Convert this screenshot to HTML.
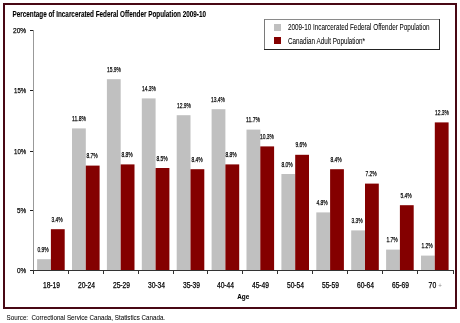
<!DOCTYPE html>
<html><head><meta charset="utf-8"><style>
html,body{margin:0;padding:0;background:#fff;width:460px;height:323px;overflow:hidden}
svg{display:block;will-change:transform}
text{font-family:"Liberation Sans", sans-serif}
</style></head><body>
<svg width="460" height="323" viewBox="0 0 460 323" shape-rendering="crispEdges">
<rect x="4" y="4" width="452" height="304" fill="none" stroke="#480814" stroke-width="2"/>
<rect x="37.10" y="259.20" width="13.8" height="10.80" fill="#c0c0c0" shape-rendering="geometricPrecision"/>
<rect x="50.90" y="229.20" width="13.8" height="40.80" fill="#840000" shape-rendering="geometricPrecision"/>
<rect x="72.00" y="128.40" width="13.8" height="141.60" fill="#c0c0c0" shape-rendering="geometricPrecision"/>
<rect x="85.80" y="165.60" width="13.8" height="104.40" fill="#840000" shape-rendering="geometricPrecision"/>
<rect x="106.90" y="79.20" width="13.8" height="190.80" fill="#c0c0c0" shape-rendering="geometricPrecision"/>
<rect x="120.70" y="164.40" width="13.8" height="105.60" fill="#840000" shape-rendering="geometricPrecision"/>
<rect x="141.80" y="98.40" width="13.8" height="171.60" fill="#c0c0c0" shape-rendering="geometricPrecision"/>
<rect x="155.60" y="168.00" width="13.8" height="102.00" fill="#840000" shape-rendering="geometricPrecision"/>
<rect x="176.70" y="115.20" width="13.8" height="154.80" fill="#c0c0c0" shape-rendering="geometricPrecision"/>
<rect x="190.50" y="169.20" width="13.8" height="100.80" fill="#840000" shape-rendering="geometricPrecision"/>
<rect x="211.60" y="109.20" width="13.8" height="160.80" fill="#c0c0c0" shape-rendering="geometricPrecision"/>
<rect x="225.40" y="164.40" width="13.8" height="105.60" fill="#840000" shape-rendering="geometricPrecision"/>
<rect x="246.50" y="129.60" width="13.8" height="140.40" fill="#c0c0c0" shape-rendering="geometricPrecision"/>
<rect x="260.30" y="146.40" width="13.8" height="123.60" fill="#840000" shape-rendering="geometricPrecision"/>
<rect x="281.40" y="174.00" width="13.8" height="96.00" fill="#c0c0c0" shape-rendering="geometricPrecision"/>
<rect x="295.20" y="154.80" width="13.8" height="115.20" fill="#840000" shape-rendering="geometricPrecision"/>
<rect x="316.30" y="212.40" width="13.8" height="57.60" fill="#c0c0c0" shape-rendering="geometricPrecision"/>
<rect x="330.10" y="169.20" width="13.8" height="100.80" fill="#840000" shape-rendering="geometricPrecision"/>
<rect x="351.20" y="230.40" width="13.8" height="39.60" fill="#c0c0c0" shape-rendering="geometricPrecision"/>
<rect x="365.00" y="183.60" width="13.8" height="86.40" fill="#840000" shape-rendering="geometricPrecision"/>
<rect x="386.10" y="249.60" width="13.8" height="20.40" fill="#c0c0c0" shape-rendering="geometricPrecision"/>
<rect x="399.90" y="205.20" width="13.8" height="64.80" fill="#840000" shape-rendering="geometricPrecision"/>
<rect x="421.00" y="255.60" width="13.8" height="14.40" fill="#c0c0c0" shape-rendering="geometricPrecision"/>
<rect x="434.80" y="122.40" width="13.8" height="147.60" fill="#840000" shape-rendering="geometricPrecision"/>
<rect x="33" y="30" width="1" height="241" fill="#999"/>
<rect x="30" y="270" width="424" height="1" fill="#333"/>
<rect x="30" y="30" width="3" height="1" fill="#222"/>
<rect x="30" y="90" width="3" height="1" fill="#222"/>
<rect x="30" y="151" width="3" height="1" fill="#222"/>
<rect x="30" y="210" width="3" height="1" fill="#222"/>
<rect x="30" y="270" width="3" height="1" fill="#222"/>
<rect x="33" y="271" width="1" height="3" fill="#333"/>
<rect x="68" y="271" width="1" height="3" fill="#333"/>
<rect x="103" y="271" width="1" height="3" fill="#333"/>
<rect x="138" y="271" width="1" height="3" fill="#333"/>
<rect x="173" y="271" width="1" height="3" fill="#333"/>
<rect x="207" y="271" width="1" height="3" fill="#333"/>
<rect x="242" y="271" width="1" height="3" fill="#333"/>
<rect x="277" y="271" width="1" height="3" fill="#333"/>
<rect x="312" y="271" width="1" height="3" fill="#333"/>
<rect x="347" y="271" width="1" height="3" fill="#333"/>
<rect x="382" y="271" width="1" height="3" fill="#333"/>
<rect x="417" y="271" width="1" height="3" fill="#333"/>
<rect x="453" y="271" width="1" height="3" fill="#333"/>
<text x="12.5" y="17.2" font-size="8.3" text-anchor="start" textLength="193.5" lengthAdjust="spacingAndGlyphs" font-weight="bold" stroke="#000" stroke-width="0.12" fill="#000">Percentage of Incarcerated Federal Offender Population 2009-10</text>
<text x="13.0" y="32.9" font-size="8" text-anchor="start" textLength="13.2" lengthAdjust="spacingAndGlyphs" stroke="#000" stroke-width="0.25" fill="#000">20%</text>
<text x="14.0" y="92.9" font-size="8" text-anchor="start" textLength="12.2" lengthAdjust="spacingAndGlyphs" stroke="#000" stroke-width="0.25" fill="#000">15%</text>
<text x="14.0" y="153.9" font-size="8" text-anchor="start" textLength="12.2" lengthAdjust="spacingAndGlyphs" stroke="#000" stroke-width="0.25" fill="#000">10%</text>
<text x="17.0" y="212.9" font-size="8" text-anchor="start" textLength="9.2" lengthAdjust="spacingAndGlyphs" stroke="#000" stroke-width="0.25" fill="#000">5%</text>
<text x="17.0" y="272.9" font-size="8" text-anchor="start" textLength="9.2" lengthAdjust="spacingAndGlyphs" stroke="#000" stroke-width="0.25" fill="#000">0%</text>
<text x="37.45" y="251.8" font-size="8" text-anchor="start" textLength="11.3" lengthAdjust="spacingAndGlyphs" stroke="#000" stroke-width="0.25" fill="#000">0.9%</text>
<text x="51.45" y="221.8" font-size="8" text-anchor="start" textLength="11.3" lengthAdjust="spacingAndGlyphs" stroke="#000" stroke-width="0.25" fill="#000">3.4%</text>
<text x="72.0" y="121.0" font-size="8" text-anchor="start" textLength="14" lengthAdjust="spacingAndGlyphs" stroke="#000" stroke-width="0.25" fill="#000">11.8%</text>
<text x="86.45" y="158.2" font-size="8" text-anchor="start" textLength="11.3" lengthAdjust="spacingAndGlyphs" stroke="#000" stroke-width="0.25" fill="#000">8.7%</text>
<text x="107.0" y="71.8" font-size="8" text-anchor="start" textLength="14" lengthAdjust="spacingAndGlyphs" stroke="#000" stroke-width="0.25" fill="#000">15.9%</text>
<text x="121.45" y="157.0" font-size="8" text-anchor="start" textLength="11.3" lengthAdjust="spacingAndGlyphs" stroke="#000" stroke-width="0.25" fill="#000">8.8%</text>
<text x="142.0" y="91.0" font-size="8" text-anchor="start" textLength="14" lengthAdjust="spacingAndGlyphs" stroke="#000" stroke-width="0.25" fill="#000">14.3%</text>
<text x="156.45" y="160.6" font-size="8" text-anchor="start" textLength="11.3" lengthAdjust="spacingAndGlyphs" stroke="#000" stroke-width="0.25" fill="#000">8.5%</text>
<text x="177.0" y="107.8" font-size="8" text-anchor="start" textLength="14" lengthAdjust="spacingAndGlyphs" stroke="#000" stroke-width="0.25" fill="#000">12.9%</text>
<text x="191.45" y="161.8" font-size="8" text-anchor="start" textLength="11.3" lengthAdjust="spacingAndGlyphs" stroke="#000" stroke-width="0.25" fill="#000">8.4%</text>
<text x="211.0" y="101.8" font-size="8" text-anchor="start" textLength="14" lengthAdjust="spacingAndGlyphs" stroke="#000" stroke-width="0.25" fill="#000">13.4%</text>
<text x="225.45" y="157.0" font-size="8" text-anchor="start" textLength="11.3" lengthAdjust="spacingAndGlyphs" stroke="#000" stroke-width="0.25" fill="#000">8.8%</text>
<text x="246.0" y="122.2" font-size="8" text-anchor="start" textLength="14" lengthAdjust="spacingAndGlyphs" stroke="#000" stroke-width="0.25" fill="#000">11.7%</text>
<text x="260.0" y="139.0" font-size="8" text-anchor="start" textLength="14" lengthAdjust="spacingAndGlyphs" stroke="#000" stroke-width="0.25" fill="#000">10.3%</text>
<text x="281.45" y="166.6" font-size="8" text-anchor="start" textLength="11.3" lengthAdjust="spacingAndGlyphs" stroke="#000" stroke-width="0.25" fill="#000">8.0%</text>
<text x="295.45" y="147.4" font-size="8" text-anchor="start" textLength="11.3" lengthAdjust="spacingAndGlyphs" stroke="#000" stroke-width="0.25" fill="#000">9.6%</text>
<text x="316.45" y="205.0" font-size="8" text-anchor="start" textLength="11.3" lengthAdjust="spacingAndGlyphs" stroke="#000" stroke-width="0.25" fill="#000">4.8%</text>
<text x="330.45" y="161.8" font-size="8" text-anchor="start" textLength="11.3" lengthAdjust="spacingAndGlyphs" stroke="#000" stroke-width="0.25" fill="#000">8.4%</text>
<text x="351.45" y="223.0" font-size="8" text-anchor="start" textLength="11.3" lengthAdjust="spacingAndGlyphs" stroke="#000" stroke-width="0.25" fill="#000">3.3%</text>
<text x="365.45" y="176.2" font-size="8" text-anchor="start" textLength="11.3" lengthAdjust="spacingAndGlyphs" stroke="#000" stroke-width="0.25" fill="#000">7.2%</text>
<text x="386.45" y="242.2" font-size="8" text-anchor="start" textLength="11.3" lengthAdjust="spacingAndGlyphs" stroke="#000" stroke-width="0.25" fill="#000">1.7%</text>
<text x="400.45" y="197.8" font-size="8" text-anchor="start" textLength="11.3" lengthAdjust="spacingAndGlyphs" stroke="#000" stroke-width="0.25" fill="#000">5.4%</text>
<text x="421.45" y="248.2" font-size="8" text-anchor="start" textLength="11.3" lengthAdjust="spacingAndGlyphs" stroke="#000" stroke-width="0.25" fill="#000">1.2%</text>
<text x="435.0" y="115.0" font-size="8" text-anchor="start" textLength="14" lengthAdjust="spacingAndGlyphs" stroke="#000" stroke-width="0.25" fill="#000">12.3%</text>
<text x="42.9" y="288.2" font-size="8.3" text-anchor="start" textLength="17.2" lengthAdjust="spacingAndGlyphs" stroke="#000" stroke-width="0.25" fill="#000">18-19</text>
<text x="77.9" y="288.2" font-size="8.3" text-anchor="start" textLength="17.2" lengthAdjust="spacingAndGlyphs" stroke="#000" stroke-width="0.25" fill="#000">20-24</text>
<text x="112.9" y="288.2" font-size="8.3" text-anchor="start" textLength="17.2" lengthAdjust="spacingAndGlyphs" stroke="#000" stroke-width="0.25" fill="#000">25-29</text>
<text x="147.9" y="288.2" font-size="8.3" text-anchor="start" textLength="17.2" lengthAdjust="spacingAndGlyphs" stroke="#000" stroke-width="0.25" fill="#000">30-34</text>
<text x="182.9" y="288.2" font-size="8.3" text-anchor="start" textLength="17.2" lengthAdjust="spacingAndGlyphs" stroke="#000" stroke-width="0.25" fill="#000">35-39</text>
<text x="216.9" y="288.2" font-size="8.3" text-anchor="start" textLength="17.2" lengthAdjust="spacingAndGlyphs" stroke="#000" stroke-width="0.25" fill="#000">40-44</text>
<text x="251.9" y="288.2" font-size="8.3" text-anchor="start" textLength="17.2" lengthAdjust="spacingAndGlyphs" stroke="#000" stroke-width="0.25" fill="#000">45-49</text>
<text x="286.9" y="288.2" font-size="8.3" text-anchor="start" textLength="17.2" lengthAdjust="spacingAndGlyphs" stroke="#000" stroke-width="0.25" fill="#000">50-54</text>
<text x="321.9" y="288.2" font-size="8.3" text-anchor="start" textLength="17.2" lengthAdjust="spacingAndGlyphs" stroke="#000" stroke-width="0.25" fill="#000">55-59</text>
<text x="356.9" y="288.2" font-size="8.3" text-anchor="start" textLength="17.2" lengthAdjust="spacingAndGlyphs" stroke="#000" stroke-width="0.25" fill="#000">60-64</text>
<text x="391.9" y="288.2" font-size="8.3" text-anchor="start" textLength="17.2" lengthAdjust="spacingAndGlyphs" stroke="#000" stroke-width="0.25" fill="#000">65-69</text>
<text x="428.6" y="288.2" font-size="8.3" textLength="7.6" lengthAdjust="spacingAndGlyphs" stroke="#000" stroke-width="0.25" fill="#000">70</text>
<text x="438.3" y="287.6" font-size="6.5" textLength="3.6" lengthAdjust="spacingAndGlyphs" fill="#888">+</text>
<text x="237.2" y="299.1" font-size="7.5" text-anchor="start" textLength="12" lengthAdjust="spacingAndGlyphs" font-weight="bold" stroke="#000" stroke-width="0.1" fill="#000">Age</text>
<rect x="264" y="19" width="176" height="1" fill="#8a8a8a"/>
<rect x="264" y="19" width="1" height="31" fill="#7a7a7a"/>
<rect x="439" y="19" width="1" height="31" fill="#2a2a2a"/>
<rect x="264" y="49" width="176" height="1" fill="#222"/>
<rect x="274" y="24" width="7" height="7" fill="#c0c0c0"/>
<rect x="274" y="37" width="7" height="7" fill="#840000"/>
<text x="288" y="30.2" font-size="8.8" text-anchor="start" textLength="141.5" lengthAdjust="spacingAndGlyphs" stroke="#000" stroke-width="0.05" fill="#000">2009-10 Incarcerated Federal Offender Population</text>
<text x="288" y="43.6" font-size="8.8" text-anchor="start" textLength="77" lengthAdjust="spacingAndGlyphs" stroke="#000" stroke-width="0.05" fill="#000">Canadian Adult Population*</text>
<text x="6.6" y="319.9" font-size="7.8" text-anchor="start" textLength="158.5" lengthAdjust="spacingAndGlyphs" stroke="#000" stroke-width="0.05" fill="#000">Source:&#160; Correctional Service Canada, Statistics Canada.</text>
</svg>
</body></html>
